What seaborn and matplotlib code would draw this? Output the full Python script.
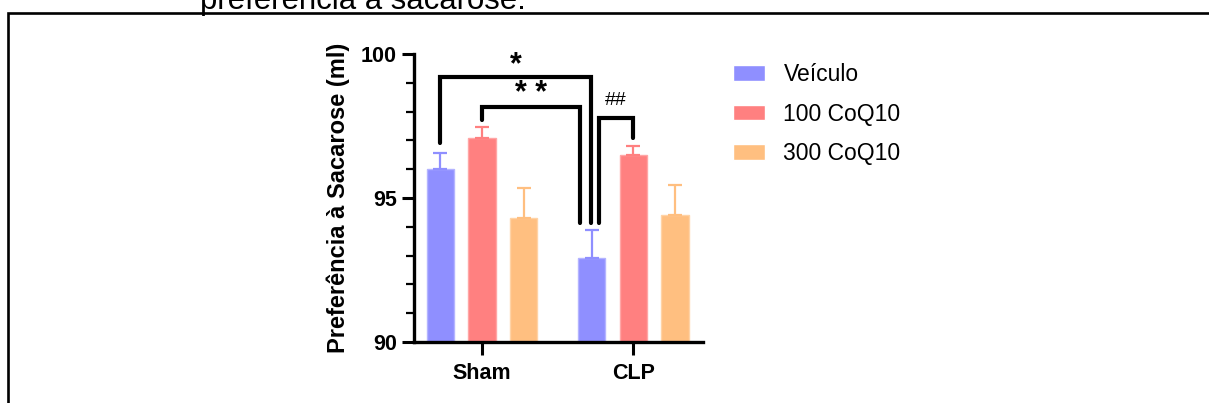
import matplotlib
matplotlib.use("Agg")
import matplotlib.pyplot as plt
from matplotlib.lines import Line2D
from matplotlib.ticker import MultipleLocator
import pandas as pd
import seaborn as sns

# data
groups = ["Sham", "CLP"]
treatments = ["Veículo", "100 CoQ10", "300 CoQ10"]
means = {
    "Veículo": [96.0, 92.9],
    "100 CoQ10": [97.1, 96.5],
    "300 CoQ10": [94.3, 94.4],
}
errors = {
    "Veículo": [0.56, 1.0],
    "100 CoQ10": [0.38, 0.3],
    "300 CoQ10": [1.05, 1.05],
}
colors = ["#8f8fff", "#ff8080", "#ffbf80"]
edge_colors = ["#b4b4ff", "#ffa6a6", "#ffd3a6"]

rows = []
for t in treatments:
    for g, v in zip(groups, means[t]):
        rows.append({"grupo": g, "tratamento": t, "valor": v})
df = pd.DataFrame(rows)

sns.set_style("ticks", {"axes.edgecolor": "black", "text.color": "black",
                        "xtick.color": "black", "ytick.color": "black",
                        "axes.labelcolor": "black"})
plt.rcParams["font.family"] = ["Liberation Sans", "DejaVu Sans"]

fig = plt.figure(figsize=(12.09, 4.03), dpi=100)
ax = fig.add_axes([414 / 1209, 61 / 403, 289 / 1209, 288 / 403])

sns.barplot(data=df, x="grupo", y="valor", hue="tratamento", order=groups,
            hue_order=treatments, palette=colors, saturation=1, errorbar=None,
            width=0.825, gap=0.345, ax=ax, legend=True)

# upward error bars, coloured like the bars
centers = {}
for i, (t, cont) in enumerate(zip(treatments, ax.containers)):
    for j, bar in enumerate(cont):
        bar.set_edgecolor(edge_colors[i])
        bar.set_linewidth(1)
        x = bar.get_x() + bar.get_width() / 2
        y = bar.get_height()
        centers[(t, groups[j])] = x
        ax.errorbar(x, y, yerr=[[0], [errors[t][j]]], color=colors[i],
                    elinewidth=1.6, capsize=5, capthick=1.6, zorder=1)

ax.set_ylim(90, 100)
ax.set_xlim(-0.45, 1.46)
ax.set_yticks([90, 95, 100])
ax.yaxis.set_minor_locator(MultipleLocator(1))
ax.tick_params(axis="both", which="major", length=9, width=2.2, labelsize=15.5)
ax.tick_params(axis="y", which="minor", length=6, width=1.6)
ax.tick_params(axis="x", pad=6)
for lab in ax.get_xticklabels() + ax.get_yticklabels():
    lab.set_fontweight("bold")
ax.set_xlabel("")
ax.set_ylabel("Preferência à Sacarose (ml)", fontsize=17, fontweight="bold",
              labelpad=8)
for s in ["left", "bottom"]:
    ax.spines[s].set_linewidth(2.4)
sns.despine(ax=ax)


# significance brackets
def bracket(x1, x2, y_top, y1, y2, label, ly, size, weight):
    ax.plot([x1, x1, x2, x2], [y1, y_top, y_top, y2], color="black", lw=3,
            solid_joinstyle="miter", clip_on=False, zorder=5)
    ax.text((x1 + x2) / 2, ly, label, ha="center", va="center",
            fontsize=size, fontweight=weight, clip_on=False)


px = 1 / 151
sv = centers[("Veículo", "Sham")]
s100 = centers[("100 CoQ10", "Sham")]
cv = centers[("Veículo", "CLP")]
c100 = centers[("100 CoQ10", "CLP")]
bracket(sv, cv - 1 * px, 99.2, 96.9, 94.13, "*", 99.6, 22, "bold")
bracket(s100, cv - 12 * px, 98.16, 97.7, 94.13, "* *", 98.62, 22, "bold")
bracket(cv + 7 * px, c100, 97.78, 94.13, 97.08, "##", 98.4, 14, "normal")

leg = ax.legend(loc="upper left", bbox_to_anchor=(733 / 1209, 340 / 403),
                bbox_transform=fig.transFigure, frameon=False, fontsize=16.5,
                handlelength=1.4, handleheight=0.65, handletextpad=0.8,
                labelspacing=0.72, borderpad=0, borderaxespad=0)

# clipped caption line and frame from the page
fig.text(200 / 1209, 394 / 403, "preferência à sacarose.", fontsize=22.4,
         ha="left", va="baseline")
fig.add_artist(Line2D([8 / 1209, 8 / 1209, 1.01], [-0.01, 390 / 403, 390 / 403],
                      color="black", lw=1.9, solid_joinstyle="miter"))

fig.savefig("out.png", dpi=100)
